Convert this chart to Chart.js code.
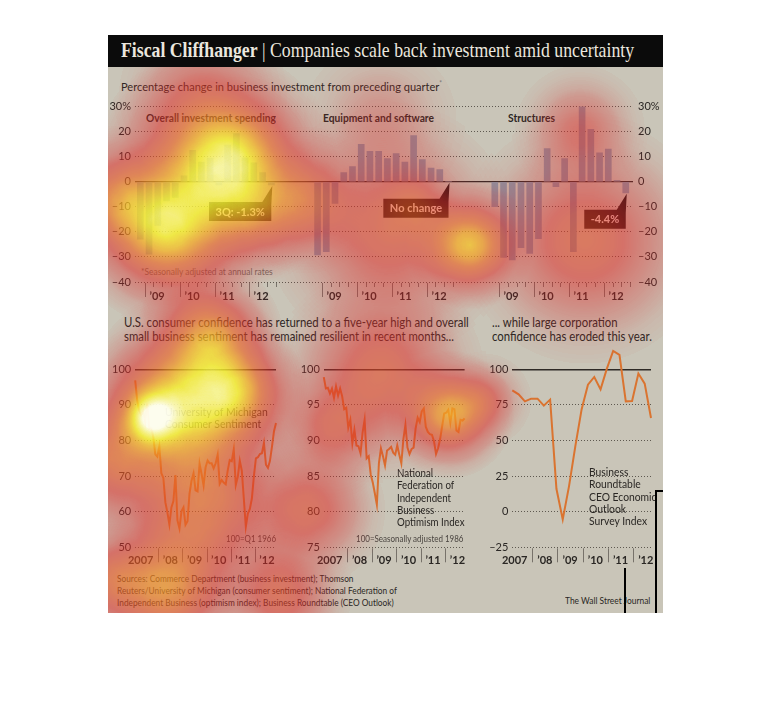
<!DOCTYPE html>
<html>
<head>
<meta charset="utf-8">
<title>Fiscal Cliffhanger</title>
<script src="https://cdn.jsdelivr.net/npm/chart.js@4.4.1/dist/chart.umd.min.js"></script>
<style>
  body { margin: 0; width: 770px; height: 708px; background: #fff; position: relative; overflow: hidden;
         font-family: Lato, sans-serif; color: #2a2724; }
  .abs { position: absolute; white-space: nowrap; transform-origin: left top; }
  canvas { position: absolute; }
  #panel { left: 108px; top: 35px; width: 555px; height: 578px; background: #c9c5b8; }
  #header { left: 108px; top: 35px; width: 555px; height: 32px; background: #0b0b0b; }
  #title { left: 121px; top: 38px; font-family: 'Liberation Serif', serif; font-size: 21px; color: #ebe7df;
           transform: scaleX(.845); }
  #subtitle { left: 121px; top: 76px; font-size: 12px; line-height: 14px; transform: scaleX(.92); }
  #subtitle sup { font-size: 7px; color: #777; }
  .ptitle { top: 111px; font-size: 11.5px; line-height: 14px; font-weight: bold; transform: scaleX(.89); }
  #footnote { left: 141px; top: 265px; font-size: 10px; line-height: 12px; color: #6e695f; transform: scaleX(.84); }
  .hdr { top: 316px; font-size: 12.5px; line-height: 14px; transform: scaleX(.91); }
  .series { font-size: 12px; line-height: 12.25px; transform: scaleX(.84); }
  .note { top: 533px; font-size: 9.5px; line-height: 12px; color: #4a4540; transform: scaleX(.84); }
  #sources { left: 117px; top: 572px; font-size: 10px; line-height: 12px; transform: scaleX(.83); }
  #wsj { left: 565px; top: 594px; font-size: 10px; line-height: 12px; transform: scaleX(.84); }
  .rule { background: #000; }
  #heat { left: 0; top: 0; pointer-events: none; }
</style>
</head>
<body>
<div id="panel" class="abs"></div>
<div id="header" class="abs"></div>
<div id="title" class="abs"><b>Fiscal Cliffhanger</b> | Companies scale back investment amid uncertainty</div>
<div id="subtitle" class="abs">Percentage change in business investment from preceding quarter<sup>*</sup></div>
<div class="abs ptitle" style="left:146px">Overall investment spending</div>
<div class="abs ptitle" style="left:323px">Equipment and software</div>
<div class="abs ptitle" style="left:508px">Structures</div>
<div id="footnote" class="abs">*Seasonally adjusted at annual rates</div>

<canvas id="barChart" width="555" height="215" style="left:108px;top:95px"></canvas>

<div class="abs hdr" style="left:124px">U.S. consumer confidence has returned to a five-year high and overall<br>small business sentiment has remained resilient in recent months...</div>
<div class="abs hdr" style="left:492px">... while large corporation<br>confidence has eroded this year.</div>

<canvas id="michiganChart" width="175" height="225" style="left:108px;top:345px"></canvas>
<canvas id="nfibChart" width="180" height="225" style="left:290px;top:345px"></canvas>
<canvas id="ceoChart" width="183" height="225" style="left:480px;top:345px"></canvas>

<div class="abs series" style="left:165px;top:406px;transform:scaleX(.87)">University of Michigan<br>Consumer Sentiment</div>
<div class="abs series" style="left:397px;top:467px;transform:scaleX(.81)">National<br>Federation of<br>Independent<br>Business<br>Optimism Index</div>
<div class="abs series" style="left:589px;top:466px;transform:scaleX(.86)">Business<br>Roundtable<br>CEO Economic<br>Outlook<br>Survey Index</div>
<div class="abs note" style="left:226px">100=Q1 1966</div>
<div class="abs note" style="left:356px">100=Seasonally adjusted 1986</div>

<div id="sources" class="abs">Sources: Commerce Department (business investment); Thomson<br>Reuters/University of Michigan (consumer sentiment); National Federation of<br>Independent Business (optimism index); Business Roundtable (CEO Outlook)</div>
<div id="wsj" class="abs">The Wall Street Journal</div>

<div class="abs rule" style="left:624px;top:568px;width:2px;height:45px"></div>
<div class="abs rule" style="left:655px;top:490px;width:2px;height:123px"></div>
<div class="abs rule" style="left:655px;top:490px;width:8px;height:2px"></div>

<canvas id="heat" width="770" height="708"></canvas>

<script>
const FONT = 'Lato, sans-serif';

// Quarterly % change, 4Q 2008 .. 3Q 2012
const quarterLabels = ["4Q '08", "1Q '09", "2Q '09", "3Q '09", "4Q '09", "1Q '10", "2Q '10", "3Q '10",
                       "4Q '10", "1Q '11", "2Q '11", "3Q '11", "4Q '11", "1Q '12", "2Q '12", "3Q '12"];
const overallSpending = [-22.9, -28.9, -17.4, -7.6, -6.2, 2.4, 12.5, 7.9, 9.5, -1.3, 14.6, 19.2, 9.6, 7.6, 3.7, -1.3];
const equipmentSoftware = [-29.2, -27.9, -8.6, 3.7, 6.1, 14.9, 12.1, 12.1, 9.3, 11.3, 7.9, 18.4, 8.9, 5.5, 4.9, 0];
const structures = [-9.9, -30.2, -31.2, -26.3, -28.6, -22.7, 13.2, -2.0, 9.3, -27.9, 35.2, 20.9, 11.6, 13.0, 0.6, -4.4];
const barTicks = [-40, -30, -20, -10, 0, 10, 20, 30];
const callouts = ['3Q: -1.3%', 'No change', '-4.4%'];

// Monthly, Jan 2007 ..
const michiganSentiment = [
  96.9, 91.3, 88.4, 87.1, 88.3, 85.3, 90.4, 83.4, 83.4, 80.9, 76.1, 75.5,
  78.4, 70.8, 69.5, 62.6, 59.8, 56.4, 61.2, 63.0, 70.3, 57.6, 55.3, 60.1,
  61.2, 56.3, 57.3, 65.1, 68.7, 70.8, 66.0, 65.7, 73.5, 70.6, 67.4, 72.5,
  74.4, 73.6, 73.6, 72.2, 73.6, 76.0, 67.8, 68.9, 68.2, 67.7, 71.6, 74.5,
  74.2, 77.5, 67.5, 69.8, 74.3, 71.5, 63.7, 55.8, 59.5, 60.8, 63.7, 69.9,
  75.0, 75.3, 76.2, 76.4, 79.3, 73.2, 72.3, 74.3, 78.3, 82.6, 84.9
];
const nfibOptimism = [
  98.9, 97.3, 97.4, 96.6, 97.3, 96.0, 97.6, 96.3, 97.3, 96.2, 94.4, 94.6,
  91.8, 92.9, 89.6, 91.5, 89.3, 89.2, 88.2, 91.1, 92.9, 87.5, 87.8, 85.2,
  84.1, 82.6, 81.0, 86.8, 88.9, 87.8, 86.5, 88.6, 88.8, 89.1, 88.3, 88.0,
  89.3, 88.0, 86.8, 90.2, 92.2, 89.0, 88.1, 88.8, 89.0, 91.7, 93.2, 92.6,
  94.1, 94.5, 91.9, 91.2, 90.9, 90.8, 89.9, 88.1, 88.9, 90.2, 92.0, 93.8,
  93.9, 94.3, 92.5, 94.5, 94.4, 91.4, 91.2, 92.9, 92.8, 93.1
];
// Quarterly, 1Q 2007 .. 3Q 2012
const ceoOutlook = [85.2, 82.4, 77.5, 79.4, 79.4, 74.5, 78.7, 16.1, -5.4, 18.0, 46.0, 72.0,
                    89.2, 94.6, 85.9, 100.5, 112.9, 110.1, 77.5, 77.7, 97.0, 89.9, 65.8];
const yearLabels = ['2007', "'08", "'09", "'10", "'11", "'12"];
const michiganTicks = [50, 60, 70, 80, 90, 100];
const nfibTicks = [75, 80, 85, 90, 95, 100];
const ceoTicks = [-25, 0, 25, 50, 75, 100];

// Eye-tracking overlay seen on the reference picture: [x, y, radius, weight]
const attentionSpots = [
  [215, 170, 125, 0.66], [240, 155, 80, 0.26], [165, 232, 95, 0.62], [255, 215, 70, 0.24],
  [115, 200, 75, 0.35], [305, 200, 75, 0.28], [390, 230, 130, 0.3], [470, 245, 65, 0.56],
  [415, 205, 50, 0.14], [585, 240, 130, 0.32], [580, 130, 70, 0.2], [380, 120, 90, 0.1],
  [200, 95, 90, 0.14],
  [150, 418, 45, 0.42], [160, 410, 90, 0.32], [195, 402, 115, 0.55], [238, 392, 70, 0.4],
  [210, 335, 75, 0.45], [110, 460, 80, 0.32], [200, 505, 120, 0.4], [310, 510, 80, 0.28],
  [380, 375, 110, 0.32], [450, 415, 65, 0.52], [330, 430, 70, 0.22], [165, 590, 90, 0.48],
  [280, 595, 75, 0.3], [110, 580, 60, 0.28], [485, 400, 50, 0.2]
];

Chart.defaults.font.family = FONT;
Chart.defaults.color = '#2a2724';

const PANEL_GAP = 20.3;
const DOTS = '#5e5950';
const REF_LINE = '#2e2a26';
const LINE_COLOR = '#da7430';

document.addEventListener('DOMContentLoaded', () => {
    initBarChart();
    initLineChart('michiganChart', michiganSentiment.map((v, i) => ({ x: i + 0.5, y: v })), michiganTicks, 27.2, 7);
    initLineChart('nfibChart', nfibOptimism.map((v, i) => ({ x: i + 0.5, y: v })), nfibTicks, 33.8, 5.4);
    initLineChart('ceoChart', ceoOutlook.map((v, i) => ({ x: i * 3 + 2.5, y: v })), ceoTicks, 32.3, 12);
    drawAttention();
});

function fmtPct(v) {
    if (v === 30) return '30%';
    return v < 0 ? '\u2013' + Math.abs(v) : String(v);
}

function fmtNum(v) {
    return v < 0 ? '\u2013' + Math.abs(v) : String(v);
}

const quarterAxis = {
    id: 'quarterAxis',
    afterDraw(chart) {
        const { ctx, chartArea, scales: { x } } = chart;
        ctx.save();
        ctx.strokeStyle = '#77726a';
        ctx.lineWidth = 1;
        ctx.fillStyle = '#2a2724';
        ctx.font = 'bold 11px ' + FONT;
        ctx.textBaseline = 'middle';
        ctx.textAlign = 'left';
        [0, 1, 2].forEach(k => {
            for (let q = 1; q <= quarterLabels.length; q++) {
                const px = Math.round(x.getPixelForValue(k * PANEL_GAP + q - 0.5)) + 0.5;
                const major = q < quarterLabels.length && quarterLabels[q].startsWith('1Q');
                ctx.beginPath();
                ctx.moveTo(px, chartArea.bottom + 1);
                ctx.lineTo(px, chartArea.bottom + (major ? 15 : 5));
                ctx.stroke();
                if (major) ctx.fillText('\u2019' + quarterLabels[q].slice(-2), px + 4, chartArea.bottom + 14);
            }
        });
        ctx.restore();
    }
};

const calloutBoxes = {
    id: 'calloutBoxes',
    afterDatasetsDraw(chart) {
        const ctx = chart.ctx;
        ctx.save();
        ctx.font = 'bold 11px ' + FONT;
        ctx.textBaseline = 'middle';
        ctx.textAlign = 'center';
        callouts.forEach((text, k) => {
            const bar = chart.getDatasetMeta(k).data[quarterLabels.length - 1];
            const tipX = bar.x + 1;
            const tipY = Math.max(bar.y, bar.base) + 1;
            const w = ctx.measureText(text).width + 13;
            const right = tipX - 1, left = right - w;
            const top = tipY + 16, bottom = top + 19;
            ctx.fillStyle = '#131212';
            ctx.beginPath();
            ctx.moveTo(left, top);
            ctx.lineTo(right - 9, top);
            ctx.lineTo(tipX, tipY);
            ctx.lineTo(right, top + 3);
            ctx.lineTo(right, bottom);
            ctx.lineTo(left, bottom);
            ctx.closePath();
            ctx.fill();
            ctx.fillStyle = '#f4f1ea';
            ctx.fillText(text, (left + right) / 2, (top + bottom) / 2 + 0.5);
        });
        ctx.restore();
    }
};

function initBarChart() {
    const canvas = document.getElementById('barChart');
    const series = [overallSpending, equipmentSoftware, structures];
    const yAxis = (position, width, padding) => ({
        position,
        min: -40,
        max: 30,
        afterBuildTicks: s => { s.ticks = barTicks.map(v => ({ value: v })); },
        afterFit: s => { s.width = width; },
        grid: {
            drawOnChartArea: position === 'left',
            drawTicks: false,
            color: c => c.tick && c.tick.value === 0 ? REF_LINE : DOTS,
            lineWidth: c => c.tick && c.tick.value === 0 ? 1.3 : 1
        },
        border: { display: false, dash: c => c.tick && c.tick.value === 0 ? [] : [1, 2] },
        ticks: { padding, color: '#2a2724', font: { size: 11 }, callback: fmtPct }
    });

    new Chart(canvas, {
        type: 'bar',
        data: {
            datasets: series.map((values, k) => ({
                data: values.map((v, i) => ({ x: k * PANEL_GAP + i, y: v })),
                backgroundColor: '#8a96a5',
                barThickness: 6,
                grouped: false
            }))
        },
        options: {
            responsive: false,
            animation: false,
            layout: { padding: { top: 10, bottom: 28 } },
            plugins: { legend: { display: false }, tooltip: { enabled: false } },
            scales: {
                x: { type: 'linear', offset: false, min: -0.61, max: 56.43, display: false },
                y: yAxis('left', 27, 4),
                y2: yAxis('right', 30, 5)
            }
        },
        plugins: [quarterAxis, calloutBoxes]
    });
}

const yearAxis = {
    id: 'yearAxis',
    afterDraw(chart) {
        const { ctx, chartArea, scales: { x } } = chart;
        ctx.save();
        ctx.strokeStyle = '#77726a';
        ctx.lineWidth = 1;
        ctx.fillStyle = '#2a2724';
        ctx.font = 'bold 11px ' + FONT;
        ctx.textBaseline = 'middle';
        const y = chartArea.bottom + 13;
        yearLabels.forEach((label, i) => {
            const edge = Math.round(x.getPixelForValue((i + 1) * 12)) + 0.5;
            if (i < yearLabels.length - 1) {
                ctx.beginPath();
                ctx.moveTo(edge, chartArea.bottom + 1);
                ctx.lineTo(edge, chartArea.bottom + 15);
                ctx.stroke();
            }
            if (i === 0) {
                ctx.textAlign = 'right';
                ctx.fillText(label, edge - 5, y);
            } else {
                ctx.textAlign = 'center';
                ctx.fillText(label.replace("'", '\u2019'), x.getPixelForValue(i * 12 + 6), y);
            }
        });
        ctx.restore();
    }
};

function initLineChart(id, points, ticks, axisWidth, rightPad) {
    const canvas = document.getElementById(id);
    const top = ticks[ticks.length - 1];
    new Chart(canvas, {
        type: 'line',
        data: {
            datasets: [{
                data: points,
                borderColor: LINE_COLOR,
                borderWidth: 2,
                pointRadius: 0,
                tension: 0,
                clip: false
            }]
        },
        options: {
            responsive: false,
            animation: false,
            layout: { padding: { top: 24.3, bottom: 22.7, right: rightPad } },
            plugins: { legend: { display: false }, tooltip: { enabled: false } },
            scales: {
                x: { type: 'linear', min: points[0].x, max: points[points.length - 1].x, display: false },
                y: {
                    min: ticks[0],
                    max: top,
                    afterBuildTicks: s => { s.ticks = ticks.map(v => ({ value: v })); },
                    afterFit: s => { s.width = axisWidth; },
                    grid: {
                        drawTicks: false,
                        color: c => c.tick && c.tick.value === top ? REF_LINE : DOTS,
                        lineWidth: c => c.tick && c.tick.value === top ? 1.5 : 1
                    },
                    border: { display: false, dash: c => c.tick && c.tick.value === top ? [] : [1, 2] },
                    ticks: { padding: 4, color: '#2a2724', font: { size: 11 }, callback: fmtNum }
                }
            }
        },
        plugins: [yearAxis]
    });
}

// heat colours: intensity 0..1 -> red, orange, yellow, white
const heatStops = [
    [0.00, 220, 40, 40, 0.00],
    [0.08, 220, 40, 40, 0.28],
    [0.22, 222, 45, 40, 0.55],
    [0.42, 235, 100, 35, 0.65],
    [0.58, 245, 170, 35, 0.74],
    [0.74, 248, 240, 45, 0.82],
    [0.95, 255, 255, 235, 0.95],
    [1.00, 255, 255, 240, 0.96]
];
const falloff = [[0, 1], [0.2, 0.85], [0.4, 0.53], [0.6, 0.24], [0.8, 0.077], [1, 0]];

function heatColour(t) {
    for (let i = 1; i < heatStops.length; i++) {
        const a = heatStops[i - 1], b = heatStops[i];
        if (t <= b[0]) {
            const f = (t - a[0]) / (b[0] - a[0]);
            return [1, 2, 3, 4].map(j => a[j] + (b[j] - a[j]) * f);
        }
    }
    return heatStops[heatStops.length - 1].slice(1);
}

function drawAttention() {
    const canvas = document.getElementById('heat');
    const w = canvas.width, h = canvas.height;
    const buf = document.createElement('canvas');
    buf.width = w;
    buf.height = h;
    const bctx = buf.getContext('2d');
    bctx.globalCompositeOperation = 'lighter';
    attentionSpots.forEach(([x, y, r, weight]) => {
        const g = bctx.createRadialGradient(x, y, 0, x, y, r);
        falloff.forEach(([s, f]) => g.addColorStop(s, 'rgba(0,0,0,' + (weight * f) + ')'));
        bctx.fillStyle = g;
        bctx.fillRect(x - r, y - r, 2 * r, 2 * r);
    });
    const src = bctx.getImageData(0, 0, w, h).data;
    const ctx = canvas.getContext('2d');
    const out = ctx.createImageData(w, h);
    for (let p = 0; p < src.length; p += 4) {
        const t = src[p + 3] / 255;
        if (t < 0.005) continue;
        const [r, g, b, a] = heatColour(t);
        out.data[p] = r;
        out.data[p + 1] = g;
        out.data[p + 2] = b;
        out.data[p + 3] = a * 255;
    }
    ctx.putImageData(out, 0, 0);
    // keep the overlay inside the graphic, below the black title bar
    ctx.globalCompositeOperation = 'destination-in';
    ctx.fillRect(108, 67, 555, 546);
}
</script>
</body>
</html>
